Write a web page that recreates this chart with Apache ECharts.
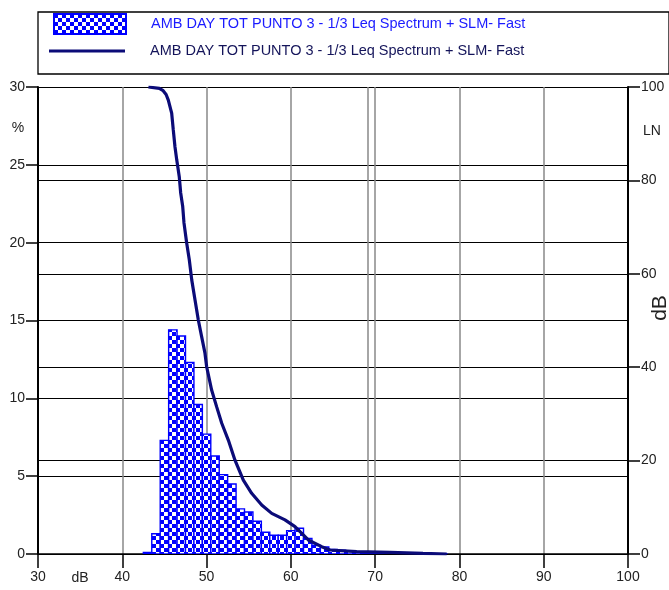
<!DOCTYPE html>
<html>
<head>
<meta charset="utf-8">
<script src="https://cdn.jsdelivr.net/npm/echarts@6/dist/echarts.min.js"></script>
<style>
html,body{margin:0;padding:0;background:#fff;}
#chart{width:669px;height:590px;}
</style>
</head>
<body>
<div id="chart"></div>
<script>
// ---- data ----
var seriesName = 'AMB DAY TOT PUNTO 3 - 1/3 Leq Spectrum + SLM- Fast';
// histogram: bin centre (dB) and percentage of time
var binCenters = [43, 44, 45, 46, 47, 48, 49, 50, 51, 52, 53, 54, 55, 56, 57, 58, 59, 60, 61, 62, 63, 64, 65, 66, 67, 68, 69, 70, 71, 72, 73, 74, 75, 76, 77, 78];
var binPercent = [0.1, 1.3, 7.3, 14.4, 14.0, 12.3, 9.6, 7.7, 6.3, 5.1, 4.5, 2.9, 2.7, 2.1, 1.4, 1.2, 1.2, 1.5, 1.65, 1.0, 0.55, 0.45, 0.3, 0.25, 0.2, 0.15, 0.1, 0.08, 0.06, 0.05, 0.05, 0.04, 0.03, 0.03, 0.02, 0.02];
// LN cumulative curve: level (dB) and exceedance (%)
var lnLevel = [43.1, 44.4, 44.85, 45.2, 45.46, 45.86, 46.05, 46.25, 46.46, 46.76, 46.93, 47.17, 47.32, 47.64, 47.95, 48.24, 48.63, 49.02, 49.42, 49.81, 50.01, 50.6, 51.2, 51.8, 52.58, 53.37, 54.36, 55.35, 56.54, 57.73, 59.3, 60.49, 62.07, 63.66, 64.64, 67.81, 71.76, 75.68, 78.49];
var lnValue = [100, 99.7, 99.2, 98.4, 97.2, 94.4, 90.8, 87.2, 84.4, 80.8, 77.3, 74.4, 70.9, 66.6, 63.0, 58.7, 54.4, 50.1, 46.5, 43.0, 40.1, 35.1, 31.5, 28.0, 24.4, 20.1, 15.8, 13.0, 10.5, 8.7, 7.3, 5.85, 3.0, 1.57, 0.86, 0.5, 0.36, 0.14, 0];
// extra marker line (dB)
var markerLevels = [69.1];
// axis definitions
var xMin = 30, xMax = 100, xStep = 10;
var leftMin = 0, leftMax = 30, leftStep = 5;
var rightMin = 0, rightMax = 100, rightStep = 20;

// ---- styles ----
var FONT = 'Liberation Sans';
var BLUE = '#0000ff';
var NAVY = '#0b0b78';

function makePattern() {
  var c = document.createElement('canvas');
  c.width = 8; c.height = 8;
  var ctx = c.getContext('2d');
  ctx.fillStyle = '#ffffff';
  ctx.fillRect(0, 0, 8, 8);
  ctx.fillStyle = BLUE;
  ctx.fillRect(0, 0, 4, 4);
  ctx.fillRect(4, 4, 4, 4);
  return { image: c, repeat: 'repeat' };
}
var pattern = makePattern();

var histData = binCenters.map(function (c, i) { return [c, binPercent[i]]; });
var lnData = lnLevel.map(function (l, i) { return [l, lnValue[i]]; });

var chart = echarts.init(document.getElementById('chart'), null, { renderer: 'canvas' });

var labelStyle = { fontFamily: FONT, fontSize: 14, color: '#222' };

var option = {
  animation: false,
  backgroundColor: '#ffffff',
  grid: { left: 38, right: 41, top: 87, bottom: 36, containLabel: false, outerBoundsMode: 'none' },
  legend: [
    {
      data: [{ name: seriesName, icon: 'rect', textStyle: { color: '#1a1aff' } }],
      left: 53, top: 13, padding: 0,
      itemWidth: 72, itemHeight: 20,
      selectedMode: false,
      textStyle: { fontFamily: FONT, fontSize: 14.5, padding: [0, 0, 0, 20] }
    },
    {
      data: [{ name: seriesName + ' ', icon: 'rect', itemStyle: { color: NAVY }, textStyle: { color: '#14145a' } }],
      left: 49, top: 43.5, padding: 0,
      itemWidth: 76, itemHeight: 3,
      selectedMode: false,
      textStyle: { fontFamily: FONT, fontSize: 14.5, padding: [0, 0, 0, 20] }
    }
  ],
  xAxis: {
    type: 'value', min: xMin, max: xMax, interval: xStep,
    axisLine: { show: true, onZero: false, lineStyle: { color: '#000', width: 1.5 } },
    axisTick: { show: true, inside: false, length: 14, lineStyle: { color: '#000', width: 1.5 } },
    axisLabel: Object.assign({ margin: 16 }, labelStyle),
    splitLine: { show: true, lineStyle: { color: '#888', width: 1.5 } }
  },
  yAxis: [
    {
      type: 'value', min: leftMin, max: leftMax, interval: leftStep, position: 'left',
      axisLine: { show: true, lineStyle: { color: '#000', width: 2 } },
      axisTick: { show: true, inside: false, length: 12, lineStyle: { color: '#000', width: 1.5 } },
      axisLabel: Object.assign({ margin: 13 }, labelStyle),
      splitLine: { show: true, lineStyle: { color: '#000', width: 1 } }
    },
    {
      type: 'value', min: rightMin, max: rightMax, interval: rightStep, position: 'right',
      axisLine: { show: true, lineStyle: { color: '#000', width: 2 } },
      axisTick: { show: true, inside: false, length: 12, lineStyle: { color: '#000', width: 1.5 } },
      axisLabel: Object.assign({ margin: 13 }, labelStyle),
      splitLine: { show: true, lineStyle: { color: '#000', width: 1 } }
    }
  ],
  graphic: [
    { type: 'rect', shape: { x: 38, y: 12, width: 631, height: 62 }, style: { fill: null, stroke: '#000', lineWidth: 1.3 }, z: 10 },
    { type: 'text', x: 18, y: 128, style: { text: '%', font: '14px ' + FONT, fill: '#222', textAlign: 'center', textVerticalAlign: 'middle' } },
    { type: 'text', x: 652, y: 131, style: { text: 'LN', font: '14px ' + FONT, fill: '#222', textAlign: 'center', textVerticalAlign: 'middle' } },
    { type: 'text', x: 660, y: 308, rotation: Math.PI / 2, style: { text: 'dB', font: '21px ' + FONT, fill: '#222', textAlign: 'center', textVerticalAlign: 'middle' } },
    { type: 'text', x: 80, y: 578, style: { text: 'dB', font: '14px ' + FONT, fill: '#222', textAlign: 'center', textVerticalAlign: 'middle' } }
  ],
  series: [
    {
      name: seriesName,
      type: 'custom',
      xAxisIndex: 0, yAxisIndex: 0,
      data: histData,
      encode: { x: 0, y: 1 },
      itemStyle: { color: pattern, borderColor: BLUE, borderWidth: 1.5 },
      clip: true,
      z: 2,
      renderItem: function (params, api) {
        var c = api.value(0), v = api.value(1);
        var p0 = api.coord([c - 0.5, v]);
        var p1 = api.coord([c + 0.5, 0]);
        return {
          type: 'rect',
          shape: { x: p0[0], y: p0[1], width: p1[0] - p0[0], height: p1[1] - p0[1] },
          style: { fill: pattern, stroke: BLUE, lineWidth: 1.4 }
        };
      }
    },
    {
      name: seriesName + ' ',
      type: 'line',
      xAxisIndex: 0, yAxisIndex: 1,
      data: lnData,
      symbol: 'none', showSymbol: false,
      lineStyle: { color: NAVY, width: 3.2 },
      itemStyle: { color: NAVY },
      z: 5,
      markLine: {
        silent: true, symbol: 'none', animation: false,
        label: { show: false },
        lineStyle: { color: '#888', type: 'solid', width: 1.5 },
        data: markerLevels.map(function (m) { return { xAxis: m }; }),
        z: 1
      }
    }
  ]
};
chart.setOption(option);
</script>
</body>
</html>
